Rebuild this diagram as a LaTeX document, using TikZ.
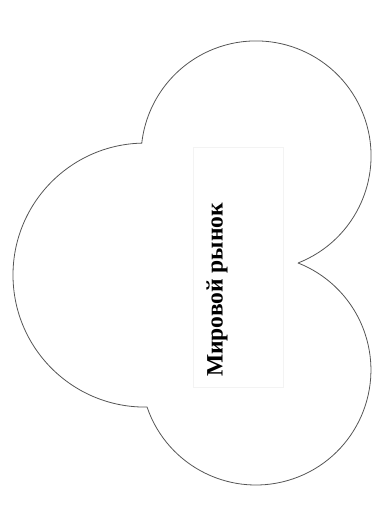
\documentclass[tikz,border=0pt]{standalone}
\usepackage{fontspec}
\setmainfont{Liberation Serif}
\usepackage{xcolor}
\usepackage{tikz}
\usetikzlibrary{positioning}
\definecolor{CloudLine}{HTML}{555555}
\definecolor{BoxEdge}{HTML}{F3F3F3}

\begin{document}
\begin{tikzpicture}[x=1pt,y=-1pt]
  \useasboundingbox (0,0) rectangle (375,529);

  % Cloud outline: three circles joined at their crossings
  \coordinate (cusp) at (298,263);
  \draw[CloudLine,line width=0.8pt]
    (cusp) arc[start angle=68.6,end angle=-173.6,radius=115]
           arc[start angle=-91.4,end angle=-270.9,radius=132]
           arc[start angle=-198.8,end angle=-428.6,radius=115] -- cycle;

  % Label
  \node[draw=BoxEdge,minimum width=90pt,minimum height=240pt] (box) at (238,267) {};
  \node[rotate=90,font=\bfseries\fontsize{23.5}{28}\selectfont] (market) at (217,290) {Мировой рынок};
\end{tikzpicture}
\end{document}
